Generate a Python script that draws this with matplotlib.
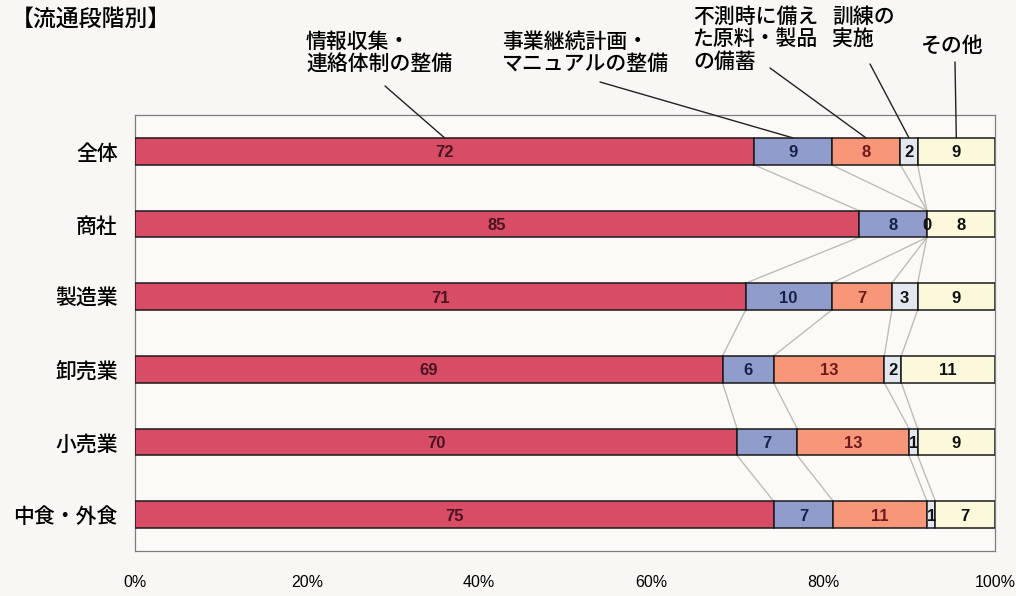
import matplotlib
matplotlib.use("Agg")
import matplotlib.pyplot as plt
import numpy as np

plt.rcParams['font.family'] = ['Noto Sans CJK JP', 'DejaVu Sans']

# Data: distribution stage breakdown (%)
categories = ["全体", "商社", "製造業", "卸売業", "小売業", "中食・外食"]
series_names = ["情報収集・\n連絡体制の整備",
                "事業継続計画・\nマニュアルの整備",
                "不測時に備え\nた原料・製品\nの備蓄",
                "訓練の\n実施",
                "その他"]
info_network = [72, 85, 71, 69, 70, 75]
bcp_manual = [9, 8, 10, 6, 7, 7]
stockpile = [8, 0, 7, 13, 13, 11]
training = [2, 0, 3, 2, 1, 1]
other = [9, 8, 9, 11, 9, 7]
tick_values = [0, 20, 40, 60, 80, 100]
tick_labels = ["0%", "20%", "40%", "60%", "80%", "100%"]
title = "【流通段階別】"

series = [info_network, bcp_manual, stockpile, training, other]
colors = ["#d84c66", "#8f9ccc", "#f8967a", "#e3e7ef", "#fcf8dc"]
text_colors = ["#4a1420", "#1a2148", "#6e1a1a", "#111111", "#111111"]
num_font = ["Liberation Sans", "DejaVu Sans"]

W, H = 1016, 596
fig = plt.figure(figsize=(W / 100, H / 100), dpi=100, facecolor="#f8f7f3")
ax = fig.add_axes([135 / W, 1 - 551 / H, (995 - 135) / W, (551 - 115) / H])
ax.set_facecolor("#fbfaf7")

vals = np.array(series, dtype=float)           # shape (5, n)
totals = vals.sum(axis=0)
widths = vals / totals * 100                   # share of each row
lefts = np.vstack([np.zeros(len(categories)), np.cumsum(widths, axis=0)[:-1]])

y = np.arange(len(categories))
bar_h = 0.37

for k in range(len(series)):
    ax.barh(y, widths[k], left=lefts[k], height=bar_h, color=colors[k],
            edgecolor="#1a1a1a", linewidth=1.1, zorder=3)

# value labels inside segments (a run of zeros gets a single label)
for i in range(len(categories)):
    shown_zero = False
    for k in range(len(series)):
        v = series[k][i]
        col = text_colors[k]
        if v == 0:
            if shown_zero:
                continue
            shown_zero = True
            col = "#111111"
        xc = lefts[k][i] + widths[k][i] / 2
        ax.text(xc, y[i] + 0.02, f"{v}", ha="center", va="center",
                fontsize=12, fontweight="bold", color=col,
                family=num_font, zorder=5)

# connector lines between consecutive bars at segment boundaries
bounds = np.cumsum(widths, axis=0)[:-1]
for i in range(len(categories) - 1):
    for b in range(bounds.shape[0]):
        ax.plot([bounds[b][i], bounds[b][i + 1]],
                [y[i] + bar_h / 2, y[i + 1] - bar_h / 2],
                color="#bdbdb6", lw=1.0, zorder=2)

ax.set_xlim(0, 100)
ax.set_ylim(len(categories) - 0.5, -0.5)
ax.set_yticks(y)
ax.set_yticklabels(categories, fontsize=15, fontweight="medium")
ax.set_xticks(tick_values)
ax.set_xticklabels(tick_labels, fontsize=11.5, family=num_font)
ax.tick_params(axis="both", length=0)
ax.tick_params(axis="x", pad=17)
ax.tick_params(axis="y", pad=12.5)
for s in ax.spines.values():
    s.set_color("#7d7d7d")
    s.set_linewidth(0.9)

# series name callouts pointing at the top bar
text_pos = [(306, 31), (502, 31), (693, 6), (832, 6), (921, 35)]
line_start = [(385, 86), (600, 82), (770, 68), (870, 64), (955, 62)]
for k, name in enumerate(series_names):
    tx, ty = text_pos[k]
    fig.text(tx / W, 1 - ty / H, name, ha="left", va="top",
             fontsize=15, linespacing=1.02, fontweight="medium")
    xc = lefts[k][0] + widths[k][0] / 2
    sx, sy = line_start[k]
    ax.annotate("", xy=(xc, y[0] - bar_h / 2), xycoords="data",
                xytext=(sx, H - sy), textcoords="figure pixels",
                arrowprops=dict(arrowstyle="-", color="#222222", lw=1.0,
                                shrinkA=0, shrinkB=0), zorder=6)

fig.text(11 / W, 1 - 8 / H, title, ha="left", va="top", fontsize=16.5,
         fontweight="medium")

fig.savefig("out.png", dpi=100, facecolor=fig.get_facecolor())
